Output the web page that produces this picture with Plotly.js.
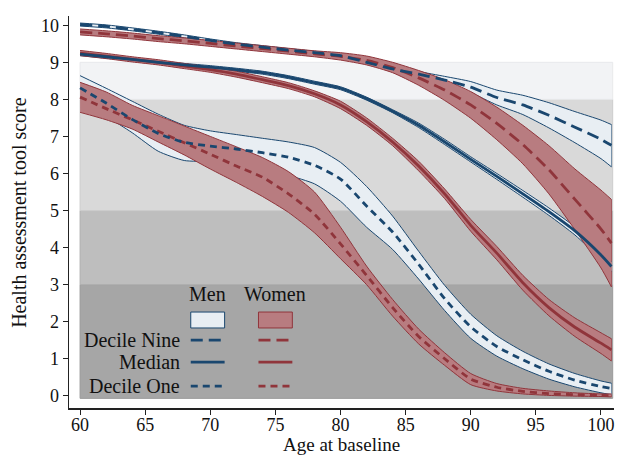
<!DOCTYPE html>
<html>
<head>
<meta charset="utf-8">
<script src="https://cdn.plot.ly/plotly-3.0.1.min.js"></script>
<style>html,body{margin:0;padding:0;background:#fff;}#chart{width:626px;height:456px;}</style>
</head>
<body>
<div id="chart"></div>
<script>
// Age at baseline
const ages = [60,62,64,66,68,70,72,74,76,78,80,82,84,86,88,90,92,94,96,98,100,100.8];

// Men
const menD9   = [10.02,9.97,9.89,9.8,9.7,9.59,9.49,9.41,9.33,9.26,9.18,9.0,8.82,8.68,8.52,8.33,8.05,7.85,7.57,7.25,6.92,6.76];
const menD9Hi = [10.06,10.01,9.93,9.84,9.74,9.63,9.53,9.45,9.37,9.30,9.22,9.04,8.87,8.75,8.62,8.48,8.25,8.11,7.91,7.67,7.44,7.32];
const menD9Lo = [9.98,9.93,9.85,9.76,9.66,9.55,9.45,9.37,9.29,9.22,9.14,8.96,8.77,8.61,8.42,8.18,7.85,7.59,7.23,6.83,6.40,6.18];

const menMed   = [9.22,9.15,9.08,9.0,8.93,8.87,8.8,8.72,8.6,8.45,8.3,8.02,7.68,7.3,6.85,6.38,5.92,5.45,4.97,4.45,3.8,3.49];
const menMedHi = [9.26,9.19,9.12,9.04,8.97,8.91,8.84,8.76,8.64,8.49,8.34,8.06,7.72,7.36,6.92,6.45,6.0,5.54,5.07,4.56,3.92,3.62];
const menMedLo = [9.18,9.11,9.04,8.96,8.89,8.83,8.76,8.68,8.56,8.41,8.26,7.98,7.64,7.24,6.78,6.31,5.84,5.36,4.87,4.34,3.68,3.36];

const menD1   = [8.31,7.9,7.46,7.08,6.84,6.74,6.66,6.56,6.44,6.22,5.85,5.12,4.42,3.55,2.62,1.86,1.33,0.97,0.66,0.42,0.25,0.2];
const menD1Hi = [8.64,8.3,7.95,7.6,7.3,7.15,7.05,6.95,6.85,6.7,6.3,5.65,4.85,3.9,2.98,2.2,1.62,1.2,0.86,0.6,0.4,0.34];
const menD1Lo = [8.0,7.55,7.1,6.6,6.35,6.32,6.25,6.15,5.95,5.72,5.25,4.55,3.95,3.15,2.3,1.55,1.07,0.73,0.45,0.24,0.08,0.03];

// Women
const womenD9   = [9.82,9.77,9.71,9.64,9.58,9.51,9.44,9.37,9.3,9.23,9.16,9.05,8.86,8.58,8.25,7.85,7.35,6.78,6.1,5.3,4.5,4.12];
const womenD9Hi = [9.9,9.85,9.79,9.72,9.66,9.59,9.52,9.45,9.38,9.31,9.26,9.17,9.0,8.78,8.53,8.21,7.79,7.3,6.75,6.12,5.55,5.3];
const womenD9Lo = [9.74,9.69,9.63,9.56,9.5,9.43,9.36,9.29,9.22,9.15,9.06,8.93,8.72,8.38,7.97,7.49,6.91,6.26,5.45,4.48,3.45,2.94];

const womenMed   = [9.25,9.17,9.08,9.0,8.9,8.8,8.68,8.53,8.37,8.15,7.85,7.4,6.85,6.2,5.45,4.6,3.85,3.05,2.38,1.85,1.42,1.24];
const womenMedHi = [9.32,9.24,9.15,9.07,8.97,8.87,8.76,8.61,8.45,8.23,7.95,7.5,6.95,6.33,5.58,4.76,4.03,3.25,2.6,2.1,1.7,1.54];
const womenMedLo = [9.18,9.1,9.01,8.93,8.83,8.73,8.6,8.45,8.29,8.07,7.75,7.3,6.75,6.07,5.32,4.44,3.67,2.85,2.16,1.6,1.14,0.94];

const womenD1   = [8.06,7.75,7.45,7.14,6.83,6.52,6.2,5.9,5.45,4.9,4.1,3.25,2.38,1.6,1.0,0.45,0.23,0.12,0.06,0.03,0.01,0.0];
const womenD1Hi = [8.46,8.2,7.84,7.56,7.28,7.0,6.72,6.43,6.05,5.5,4.55,3.5,2.6,1.8,1.16,0.6,0.33,0.2,0.13,0.08,0.05,0.05];
const womenD1Lo = [7.65,7.45,7.2,6.85,6.5,6.12,5.76,5.38,4.95,4.4,3.7,3.0,2.15,1.4,0.82,0.3,0.13,0.05,0.01,-0.01,-0.02,-0.03];

// Background score bands (HAT score thresholds)
const bandLo = [-0.07, 3, 5, 8];
const bandHi = [3, 5, 8, 9];
const bandColors = ['#a6a6a6', '#bebebe', '#d9d9d9', '#f2f3f5'];
const bandEdges  = ['#9a9a9a', '#b0b0b0', '#cdcdcd', '#e8e9eb'];

// Tick labels
const xTicks = [60,65,70,75,80,85,90,95,100];
const yTicks = [0,1,2,3,4,5,6,7,8,9,10];

const rowLabels = ['Decile Nine', 'Median', 'Decile One'];
const colLabels = ['Men', 'Women'];

const MEN = '#1a476f', WOMEN = '#90353b';
const MENFILL = '#e8eef3', WOMENFILL = '#b87c80';
const DASH9 = '12px,6px', DASH1 = '7px,5px';
const SMOOTH = {shape: 'spline', smoothing: 0.6};

function band(hi, lo, fill, edge) {
  return [
    {x: ages, y: lo, type: 'scatter', mode: 'lines',
     line: Object.assign({color: edge, width: 1}, SMOOTH), hoverinfo: 'skip', showlegend: false},
    {x: ages, y: hi, type: 'scatter', mode: 'lines', fill: 'tonexty', fillcolor: fill,
     line: Object.assign({color: edge, width: 1}, SMOOTH), hoverinfo: 'skip', showlegend: false}
  ];
}
function line(y, color, dash) {
  return {x: ages, y: y, type: 'scatter', mode: 'lines',
    line: Object.assign({color: color, width: 2.8, dash: dash}, SMOOTH), showlegend: false};
}

const traces = [].concat(
  band(menD9Hi, menD9Lo, MENFILL, MEN),
  band(menMedHi, menMedLo, MENFILL, MEN),
  band(menD1Hi, menD1Lo, MENFILL, MEN),
  band(womenD9Hi, womenD9Lo, WOMENFILL, WOMEN),
  band(womenMedHi, womenMedLo, WOMENFILL, WOMEN),
  band(womenD1Hi, womenD1Lo, WOMENFILL, WOMEN),
  [line(womenD9, WOMEN, DASH9),
   line(womenMed, WOMEN, 'solid'),
   line(womenD1, WOMEN, DASH1),
   line(menD9, MEN, DASH9),
   line(menMed, MEN, 'solid'),
   line(menD1, MEN, DASH1)]
);

const FONT = 'Liberation Serif, Times New Roman, serif';
const shapes = [];
for (let i = 0; i < bandLo.length; i++) {
  shapes.push({type: 'rect', xref: 'x', yref: 'y', x0: 60, x1: 100.9,
    y0: bandLo[i], y1: bandHi[i], fillcolor: bandColors[i],
    line: {color: bandEdges[i], width: 1}, layer: 'below'});
}
// closing edges of the confidence bands at the last age
const endBands = [[menD9Hi, menD9Lo, MEN], [menMedHi, menMedLo, MEN], [menD1Hi, menD1Lo, MEN],
                  [womenD9Hi, womenD9Lo, WOMEN], [womenMedHi, womenMedLo, WOMEN], [womenD1Hi, womenD1Lo, WOMEN]];
const last = ages.length - 1;
endBands.forEach(([hi, lo, col]) => {
  shapes.push({type: 'line', xref: 'x', yref: 'y', x0: ages[last], x1: ages[last],
    y0: lo[last], y1: hi[last], line: {color: col, width: 1}, layer: 'between'});
});

// Legend key (drawn inside the plot)
const keyCols = [[68.5, 71.1], [73.7, 76.3]];
const keyColors = [[MEN, MENFILL], [WOMEN, WOMENFILL]];
const keyRowsY = [1.5, 0.91, 0.26];
const keyDash = [DASH9, 'solid', DASH1];
const annotations = [];
for (let c = 0; c < 2; c++) {
  const [x0, x1] = keyCols[c];
  annotations.push({x: (x0 + x1) / 2, y: 2.74, xref: 'x', yref: 'y', text: colLabels[c],
    showarrow: false, xanchor: 'center', yanchor: 'middle', font: {family: FONT, size: 20, color: '#111'}});
  shapes.push({type: 'rect', xref: 'x', yref: 'y', x0: x0, x1: x1, y0: 1.83, y1: 2.26,
    fillcolor: keyColors[c][1], line: {color: keyColors[c][0], width: 1}});
  for (let r = 0; r < 3; r++) {
    shapes.push({type: 'line', xref: 'x', yref: 'y', x0: x0, x1: x1, y0: keyRowsY[r], y1: keyRowsY[r],
      line: {color: keyColors[c][0], width: 2.8, dash: keyDash[r]}});
  }
}
for (let r = 0; r < 3; r++) {
  annotations.push({x: 67.8, y: keyRowsY[r], xref: 'x', yref: 'y', text: rowLabels[r],
    showarrow: false, xanchor: 'right', yanchor: 'middle', font: {family: FONT, size: 20, color: '#111'}});
}
// Axis titles
annotations.push({x: -0.092, y: 0.5, xref: 'paper', yref: 'paper', text: 'Health assessment tool score',
  textangle: -90, showarrow: false, xanchor: 'center', yanchor: 'middle', font: {family: FONT, size: 20, color: '#111'}});
annotations.push({x: 0.5, y: -0.1224, xref: 'paper', yref: 'paper', text: 'Age at baseline',
  showarrow: false, xanchor: 'center', yanchor: 'bottom', borderpad: 0, font: {family: FONT, size: 19, color: '#111'}});

const layout = {
  width: 626, height: 456,
  margin: {l: 69, r: 12, t: 16, b: 48},
  paper_bgcolor: '#ffffff', plot_bgcolor: '#ffffff',
  showlegend: false,
  font: {family: FONT, color: '#111'},
  xaxis: {range: [59.15, 101.0], tickvals: xTicks, ticktext: xTicks.map(String),
    ticks: 'outside', ticklen: 5, tickwidth: 1, tickcolor: '#222', ticklabelstandoff: -5,
    showline: true, linecolor: '#222', linewidth: 1.5, showgrid: false, zeroline: false,
    tickfont: {family: FONT, size: 18, color: '#111'}},
  yaxis: {range: [-0.33, 10.25], tickvals: yTicks, ticktext: yTicks.map(String),
    ticks: 'outside', ticklen: 5, tickwidth: 1, tickcolor: '#222',
    showline: true, linecolor: '#222', linewidth: 1.5, showgrid: false, zeroline: false,
    tickfont: {family: FONT, size: 18, color: '#111'}},
  shapes: shapes,
  annotations: annotations
};

Plotly.newPlot('chart', traces, layout, {staticPlot: true, displayModeBar: false});
</script>
</body>
</html>
